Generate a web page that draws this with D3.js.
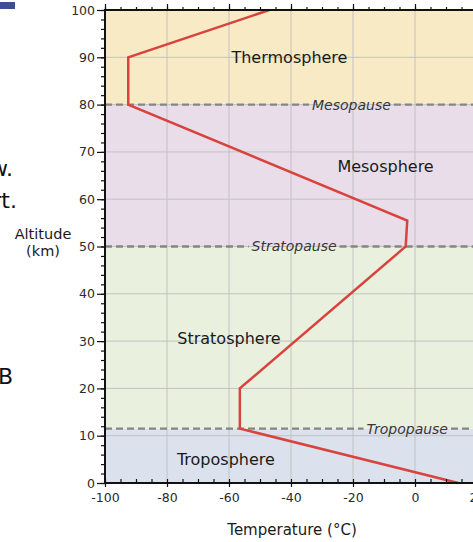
<!DOCTYPE html>
<html>
<head>
<meta charset="utf-8">
<script src="https://cdn.jsdelivr.net/npm/d3@7"></script>
<style>
  body { margin: 0; background: #fff; }
  svg { display: block; }
</style>
</head>
<body>
<script>
// temperature profile of the standard atmosphere
var altitude    = [0,  11.5,  20,    50, 55.5, 80,    90,    100]
var temperature = [14, -56.5, -56.5, -3, -2.5, -92.5, -92.5, -47]

// layers
var layerNames   = ['Troposphere', 'Stratosphere', 'Mesosphere', 'Thermosphere']
var layerBottoms = [0, 11.5, 50, 80]
var layerTops    = [11.5, 50, 80, 100]

// boundaries
var pauseNames = ['Tropopause', 'Stratopause', 'Mesopause']
var pauseAlts  = [11.5, 50, 80]

var xTicks = [-100, -80, -60, -40, -20, 0, 20]
var yTicks = [0, 10, 20, 30, 40, 50, 60, 70, 80, 90, 100]

var w = 473
var h = 542
var font = 'DejaVu Sans, sans-serif'

var layerColors = ['#dce1ee', '#e9f1de', '#e9dde9', '#f7eac5']
var layerLabelPos = [[-61, 5], [-60, 30.5], [-9.5, 67], [-40.5, 90]] // [temp, alt] of label centres
var pauseLabelPos = [-2.5, -39, -20.5]

var svg = d3.select('body')
  .append('svg')
  .attr('width', w)
  .attr('height', h)

var x = d3.scaleLinear().domain([-100, 20]).range([105, 477])
var y = d3.scaleLinear().domain([0, 100]).range([483, 10])

// background bands
svg.selectAll('rect.band')
  .data(layerNames)
  .enter()
  .append('rect')
  .attr('class', 'band')
  .attr('x', x(-100))
  .attr('y', function(d, i){ return y(layerTops[i]) })
  .attr('width', x(20) - x(-100))
  .attr('height', function(d, i){ return y(layerBottoms[i]) - y(layerTops[i]) })
  .attr('fill', function(d, i){ return layerColors[i] })

// grid
svg.selectAll('line.vgrid')
  .data(xTicks.slice(1))
  .enter()
  .append('line')
  .attr('x1', function(d){ return x(d) })
  .attr('x2', function(d){ return x(d) })
  .attr('y1', y(0))
  .attr('y2', y(100))
  .attr('stroke', '#c2c2c2')
  .attr('stroke-width', 1)

svg.selectAll('line.hgrid')
  .data(yTicks.slice(1, -1))
  .enter()
  .append('line')
  .attr('x1', x(-100))
  .attr('x2', x(20))
  .attr('y1', function(d){ return y(d) })
  .attr('y2', function(d){ return y(d) })
  .attr('stroke', '#c2c2c2')
  .attr('stroke-width', 1)

// boundary labels and dashed lines with a gap for the label
pauseNames.forEach(function(name, i){
  var yy = y(pauseAlts[i])
  var t = svg.append('text')
    .text(name)
    .attr('x', x(pauseLabelPos[i]))
    .attr('y', yy)
    .attr('dy', '0.35em')
    .attr('text-anchor', 'middle')
    .attr('font-family', font)
    .attr('font-style', 'italic')
    .attr('font-size', '14px')
    .attr('fill', '#383838')
  var b = t.node().getBBox()
  var segs = [[x(-100), b.x - 3], [b.x + b.width + 3, x(20)]]
  segs.forEach(function(s){
    svg.insert('line', 'text')
      .attr('x1', s[0]).attr('x2', s[1])
      .attr('y1', yy).attr('y2', yy)
      .attr('stroke', '#858585')
      .attr('stroke-width', 2.3)
      .attr('stroke-dasharray', '7,4')
  })
})

// layer names
svg.selectAll('text.layer')
  .data(layerNames)
  .enter()
  .append('text')
  .attr('class', 'layer')
  .text(function(d){ return d })
  .attr('x', function(d, i){ return x(layerLabelPos[i][0]) })
  .attr('y', function(d, i){ return y(layerLabelPos[i][1]) })
  .attr('dy', '0.35em')
  .attr('text-anchor', 'middle')
  .attr('font-family', font)
  .attr('font-size', '16px')
  .attr('fill', '#1a1a1a')

// temperature profile
var profile = altitude.map(function(a, i){ return [temperature[i], a] })
svg.append('path')
  .datum(profile)
  .attr('d', d3.line()
    .x(function(d){ return x(d[0]) })
    .y(function(d){ return y(d[1]) }))
  .attr('fill', 'none')
  .attr('stroke', '#d8433d')
  .attr('stroke-width', 2.5)
  .attr('stroke-linejoin', 'miter')

// axes
function styleAxis(g){
  g.select('.domain').remove()
  g.selectAll('.tick line').attr('stroke', '#111').attr('stroke-width', 1.2)
  g.selectAll('.tick text').attr('font-family', font).attr('font-size', '12.5px').attr('fill', '#2a2a2a')
}

svg.append('g')
  .attr('transform', 'translate(' + x(-100) + ',0)')
  .call(d3.axisLeft(y).tickValues(d3.range(0, 101, 2)).tickSize(4).tickFormat(''))
  .call(styleAxis)
svg.append('g')
  .attr('transform', 'translate(' + x(-100) + ',0)')
  .call(d3.axisLeft(y).tickValues(yTicks).tickSize(8).tickPadding(2).tickFormat(function(d){ return String(d) }))
  .call(styleAxis)

svg.append('g')
  .attr('transform', 'translate(0,' + y(0) + ')')
  .call(d3.axisBottom(x).tickValues(d3.range(-100, 21, 5)).tickSize(-4).tickFormat(''))
  .call(styleAxis)
svg.append('g')
  .attr('transform', 'translate(0,' + y(0) + ')')
  .call(d3.axisBottom(x).tickValues(xTicks).tickSize(4).tickPadding(6).tickFormat(function(d){ return String(d) }))
  .call(styleAxis)

svg.append('g')
  .attr('transform', 'translate(0,' + y(100) + ')')
  .call(d3.axisTop(x).tickValues(d3.range(-100, 21, 5)).tickSize(3).tickFormat(''))
  .call(styleAxis)
svg.append('g')
  .attr('transform', 'translate(0,' + y(100) + ')')
  .call(d3.axisTop(x).tickValues(xTicks).tickSize(6).tickFormat(''))
  .call(styleAxis)

// frame lines
svg.append('line')
  .attr('x1', x(-100)).attr('x2', x(-100))
  .attr('y1', y(0) + 1).attr('y2', y(100) - 1)
  .attr('stroke', '#111').attr('stroke-width', 2)
svg.append('line')
  .attr('x1', x(-100) - 1).attr('x2', x(20))
  .attr('y1', y(0)).attr('y2', y(0))
  .attr('stroke', '#111').attr('stroke-width', 2)
svg.append('line')
  .attr('x1', x(-100) - 1).attr('x2', x(20))
  .attr('y1', y(100)).attr('y2', y(100))
  .attr('stroke', '#111').attr('stroke-width', 2)

// axis titles
var yTitle = svg.append('text')
  .attr('text-anchor', 'middle')
  .attr('font-family', font)
  .attr('font-size', '14.5px')
  .attr('fill', '#1a1a1a')
yTitle.append('tspan').attr('x', 43).attr('y', 239).text('Altitude')
yTitle.append('tspan').attr('x', 43).attr('y', 256).text('(km)')

svg.append('text')
  .text('Temperature (°C)')
  .attr('x', 292)
  .attr('y', 535)
  .attr('text-anchor', 'middle')
  .attr('font-family', font)
  .attr('font-size', '15px')
  .attr('fill', '#1a1a1a')

// bits of the surrounding page that fall inside the crop
svg.append('rect')
  .attr('x', 0).attr('y', 2).attr('width', 15).attr('height', 7)
  .attr('fill', '#3d4e92')
var scraps = [['w.', 176, 13], ['rt.', 208, 17], ['B', 384, 13]]
svg.selectAll('text.scrap')
  .data(scraps)
  .enter()
  .append('text')
  .text(function(d){ return d[0] })
  .attr('x', function(d){ return d[2] })
  .attr('y', function(d){ return d[1] })
  .attr('text-anchor', 'end')
  .attr('font-family', font)
  .attr('font-size', '22px')
  .attr('fill', '#111')
</script>
</body>
</html>
